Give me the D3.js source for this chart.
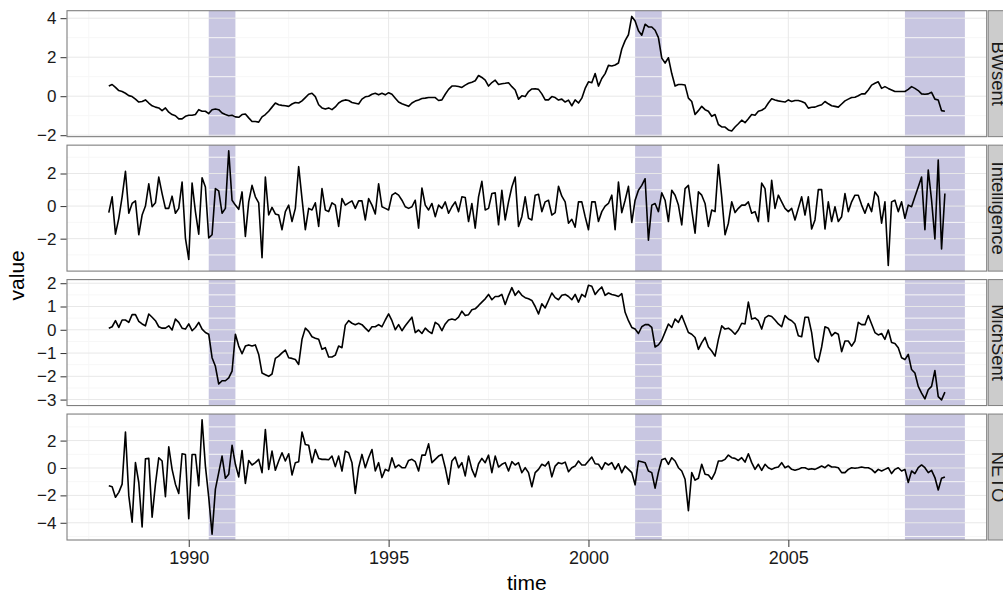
<!DOCTYPE html>
<html><head><meta charset="utf-8">
<script src="https://cdn.jsdelivr.net/npm/d3@7"></script>
<style>
body{margin:0;background:#fff}
svg{display:block}
text{font-family:"Liberation Sans",Arial,Helvetica,sans-serif}
</style>
</head><body>
<svg id="chart" width="1003" height="594"></svg>
<script>
// ---------------- data ----------------
const panelNames = ["BWsent", "Intelligence", "MichSent", "NETO"];
const startYear = 1988;          // monthly observations from Jan 1988
const xTickValues = [1990, 1995, 2000, 2005];
const xTickLabels = ["1990", "1995", "2000", "2005"];

const bwsent = [
  0.52, 0.6, 0.45, 0.29, 0.24, 0.15, 0.03, -0.02, -0.15, -0.3, -0.27, -0.19,
  -0.35, -0.49, -0.56, -0.6, -0.74, -0.6, -0.82, -0.94, -1.0, -1.16, -1.16, -1.03,
  -0.98, -0.98, -0.94, -0.69, -0.77, -0.77, -0.89, -0.69, -0.66, -0.69, -0.86, -0.94,
  -1.0, -0.98, -1.06, -1.08, -0.94, -0.91, -1.11, -1.3, -1.3, -1.33, -1.06, -0.94,
  -0.77, -0.56, -0.35, -0.44, -0.47, -0.49, -0.52, -0.4, -0.32, -0.35, -0.24, -0.07,
  0.1, 0.15, -0.02, -0.44, -0.6, -0.66, -0.6, -0.69, -0.55, -0.35, -0.24, -0.19,
  -0.22, -0.32, -0.36, -0.4, -0.15, -0.03, 0.0, 0.1, 0.15, 0.07, 0.15, 0.07,
  0.18, 0.1, -0.1, -0.3, -0.39, -0.45, -0.52, -0.35, -0.25, -0.19, -0.12, -0.1,
  -0.07, -0.07, -0.07, -0.22, -0.19, 0.1, 0.35, 0.52, 0.52, 0.5, 0.45, 0.57,
  0.66, 0.72, 0.79, 1.06, 0.96, 0.82, 0.52, 0.7, 0.82, 0.6, 0.64, 0.66,
  0.69, 0.49, 0.32, -0.15, 0.02, -0.02, 0.24, 0.37, 0.38, 0.35, 0.12, -0.19,
  -0.19, -0.02, -0.07, -0.2, -0.15, -0.3, -0.2, -0.49, -0.19, -0.35, -0.1, 0.4,
  0.74, 0.69, 1.16, 0.52, 0.91, 1.16, 1.58, 1.55, 1.6, 1.7, 2.42, 2.85,
  3.15, 4.09, 3.86, 3.35, 3.13, 3.69, 3.55, 3.55, 3.38, 3.0, 1.95, 1.7,
  1.97, 1.16, 0.52, 0.6, 0.6, 0.57, -0.1, -0.27, -0.94, -0.74, -0.52, -0.69,
  -0.77, -1.03, -0.94, -1.45, -1.57, -1.58, -1.73, -1.78, -1.58, -1.41, -1.23, -1.36,
  -1.16, -0.94, -0.98, -0.77, -0.72, -0.61, -0.35, -0.13, -0.19, -0.24, -0.27, -0.3,
  -0.19, -0.27, -0.22, -0.22, -0.27, -0.35, -0.61, -0.57, -0.56, -0.49, -0.44, -0.27,
  -0.39, -0.49, -0.52, -0.56, -0.4, -0.24, -0.15, -0.07, -0.05, 0.02, 0.12, 0.12,
  0.32, 0.57, 0.66, 0.74, 0.4, 0.49, 0.4, 0.32, 0.24, 0.24, 0.24, 0.24,
  0.35, 0.49, 0.4, 0.29, 0.12, 0.1, 0.12, 0.2, -0.15, -0.19, -0.74, -0.77
];

const intelligence = [
  -0.4, 0.57, -1.72, -0.75, 0.57, 2.14, -0.44, 0.16, 0.32, -1.76, -0.55, 0,
  1.37, -0.04, 0.2, 1.78, 0.77, -0.14, -0.14, 0.61, -0.44, -0.14, 1.47, -1.96,
  -3.27, 1.41, -0.34, -1.72, 1.74, 1.17, -1.96, -1.76, 1.07, 0.93, -0.44, -0.14,
  3.39, 0.36, 0.06, -0.2, 0.87, -1.86, 0.26, 1.27, 0.57, 0.2, -3.17, 1.78,
  -0.55, -0.08, -0.48, -0.55, -1.45, -0.34, 0.06, -0.95, -0.14, 2.42, 0.46, -1.45,
  -0.14, -0.24, 0.2, -1.25, 1.07, -0.24, -0.34, 0.2, 0.06, -1.25, 0.46, 0.06,
  0.2, 0.32, -0.14, 0.32, 0.32, -0.85, 0.46, 0.06, -0.48, 1.37, -0.04, -0.14,
  -0.24, 0.67, 0.81, 0.67, 0.36, -0.04, -0.14, -0.04, 0.36, -1.35, 1.11, 0.06,
  -0.24, 0.16, -0.65, 0.06, -0.14, 0.26, -0.44, -0.04, 0.26, -0.34, 0.57, 0.53,
  -0.95, 0.16, -1.35, 0.57, 1.52, -0.24, -0.14, 0.77, 0.81, -1.15, 0.97, -0.85,
  0.26, 1.17, 1.78, -1.25, -0.65, 0.57, -0.75, -0.85, 0.67, 0.73, -0.34, 0.26,
  0.36, -0.55, -0.4, 1.21, 0.61, 0.26, -1.05, -0.81, -1.29, 0.26, 0.26, -0.65,
  -1.45, 0.26, 0.26, -0.95, -0.34, 0, 0.16, 0.67, -1.45, 1.47, -0.4, 0.36,
  1.21, -1.01, 0.36, 0.97, 1.27, 1.68, -2.1, 0.06, 0.16, -0.34, 0.81, 0.36,
  -0.95, 0.97, 0.67, 0.06, -1.15, 1.07, 1.27, -0.24, -1.66, 0.87, 0.67, 0.16,
  -1.25, -0.24, -0.34, 2.55, 0.57, -1.76, -1.05, 0.26, -0.4, -0.14, 0.06, 0.06,
  0.26, -0.44, -0.34, -0.95, 1.41, 1.07, -0.95, 1.58, -0.14, 0.67, 0.26, -0.14,
  -0.34, -0.14, -0.85, -0.14, 0.57, -0.55, 0.57, -1.41, -0.85, 1.01, 1.01, -1.41,
  0.26, -0.95, -0.04, -0.95, -0.65, 0.77, -0.34, 0.26, 0.67, 0.67, 0.06, -0.44,
  0.16, -0.34, 0.87, 0.57, -1.05, 0.26, -3.64, 0.26, 0.36, -0.34, 0.26, -0.75,
  0.06, -0.04, 0.57, 1.17, 1.78, -1.45, 2.22, 0.36, -2.02, 2.83, -2.63, 0.77
];

const michsent = [
  0.07, 0.13, 0.39, 0.1, 0.42, 0.42, 0.32, 0.65, 0.65, 0.36, 0.25, 0.17,
  0.68, 0.54, 0.39, 0.13, 0.07, 0.07, 0.17, -0.01, 0.46, 0.32, 0.07, 0.03,
  0.25, -0.04, 0.1, 0.32, 0.03, -0.12, -0.19, -1.2, -1.57, -2.33, -2.19, -2.19,
  -2.07, -1.78, -0.19, -0.7, -1.03, -0.7, -0.65, -0.7, -0.65, -1.06, -1.86, -1.93,
  -2.0, -1.9, -1.23, -1.13, -0.99, -0.87, -1.2, -1.23, -1.28, -1.49, -0.41, 0.07,
  -0.07, -0.3, -0.36, -0.41, -0.84, -0.77, -1.17, -1.17, -1.09, -0.7, -0.77, 0.2,
  0.39, 0.28, 0.22, 0.28, 0.22, 0.07, -0.07, 0.13, 0.13, 0.22, 0.13, 0.42,
  0.68, 0.39, 0, 0.22, -0.04, 0.17, 0.36, 0.54, -0.12, -0.01, -0.16, 0.07,
  -0.07, -0.16, 0.32, 0.22, -0.04, 0.25, 0.42, 0.46, 0.42, 0.54, 0.8, 0.61,
  0.65, 0.86, 0.9, 1.04, 1.19, 1.33, 1.52, 1.29, 1.43, 1.43, 1.52, 1.09,
  1.48, 1.81, 1.48, 1.67, 1.48, 1.38, 1.33, 1.26, 1.0, 0.68, 1.12, 0.94,
  1.26, 1.58, 1.38, 1.29, 1.48, 1.52, 1.43, 1.29, 1.52, 1.19, 1.52, 1.41,
  1.91, 1.87, 1.52, 1.7, 1.84, 1.48, 1.58, 1.52, 1.48, 1.43, 1.55, 0.75,
  0.39, 0.1, 0.03, -0.16, 0.13, 0.22, 0.22, 0.1, -0.74, -0.65, -0.45, -0.1,
  0.25, 0.1, 0.46, 0.32, 0.61, 0.25, -0.12, -0.19, -0.33, -0.84, -0.55, -0.33,
  -0.74, -0.91, -1.13, -0.41, 0.17, 0.03, 0.07, -0.04, -0.19, -0.01, 0.28, 0.25,
  1.19, 0.46, 0.51, 0.39, 0.03, 0.51, 0.61, 0.57, 0.42, 0.25, 0.13, 0.61,
  0.46, 0.39, 0.25, -0.26, -0.3, 0.54, 0.54, -0.12, -1.2, -1.38, -0.74, 0.13,
  0.07, -0.26, -0.12, -0.19, -0.94, -0.48, -0.48, -0.7, -0.48, 0.32, 0.22, 0.22,
  0.61, 0.25, -0.12, -0.22, -0.16, -0.41, -0.01, -0.55, -0.59, -0.77, -1.2, -1.28,
  -1.06, -1.71, -1.86, -2.43, -2.72, -2.97, -2.58, -2.43, -1.75, -2.87, -3.01, -2.68
];

const neto = [
  -1.3, -1.37, -2.14, -1.78, -1.18, 2.63, -2.02, -3.95, 0.39, -1.06, -4.31, 0.67,
  0.7, -3.59, -1.18, 0.75, 0.51, -2.1, 1.54, -0.1, -1.18, -1.86, 1.04, 0.99,
  -3.71, 0.99, 0.99, -1.3, 3.52, 0.14, -2.14, -4.84, -1.54, -0.34, 0.87, -0.75,
  -0.46, 1.66, 0.27, -0.65, 1.28, -1.13, 0.55, 0.22, 0.39, 0.63, -0.34, 2.8,
  -0.1, 1.23, -0.17, 0.51, 1.11, 0.51, 1.04, -0.51, 0.39, 0.46, 2.63, 1.71,
  1.66, 0.39, 1.35, 0.7, 0.63, 0.63, 0.6, 0.87, 0.1, 0.87, -0.22, 1.23,
  1.11, 0.39, -1.86, 0.02, 0.99, 0.02, 0.75, 1.35, -0.22, 0.39, -0.7, -0.1,
  -0.22, 0.75, 0.02, 0.22, 0.02, 0.02, 0.55, 0.63, 0.46, -0.22, 0.94, 0.94,
  1.76, 0.39, 0.63, 0.87, 0.99, 0.02, -1.18, 0.51, 0.8, 0.02, 0.39, -0.58,
  0.87, -0.1, -0.65, 0.31, 0.7, 0.39, 0.94, -0.34, 0.87, 0.07, 0.27, 0.39,
  -0.22, 0.46, 0.22, 0.39, -0.34, 0.02, -0.34, -1.37, -0.34, -0.1, 0.27, 0.14,
  0.46, -0.65, 0.14, 0.39, 0.31, 0.43, -0.27, 0.02, 0.14, 0.51, 0.22, 0.22,
  0.51, 0.8, 0.31, 0.27, -0.1, 0.39, 0.22, 0.39, -0.1, 0.31, -0.34, 0.14,
  -0.1, -0.34, -1.23, 0.51, 0.46, 0.39, -0.22, -0.34, -1.47, -0.3, 0.6, 0.7,
  0.27, 0.75, 0.51, 0.02, -0.22, -0.82, -3.11, -0.34, -0.89, -0.75, 0.27, -0.46,
  -0.51, -0.82, -0.34, 0.51, 0.51, 0.63, 0.94, 0.75, 0.7, 0.55, 0.75, 0.43,
  1.04, 0.39, -0.1, 0.27, -0.17, 0.27, 0.02, -0.1, 0.02, 0.07, 0.39, 0.02,
  0.14, -0.1, -0.17, -0.1, 0.02, 0.02, -0.1, -0.05, -0.1, 0.02, 0.14, 0.02,
  0.22, 0.07, 0.07, 0.02, -0.34, -0.34, -0.1, 0.02, -0.02, 0.02, 0.07, 0.02,
  0.02, -0.1, -0.34, -0.1, -0.22, -0.1, 0.02, -0.41, -0.1, 0.02, -0.22, -0.1,
  -1.06, -0.22, -0.41, 0.02, 0.22, 0.02, -0.34, -0.17, -0.7, -1.61, -0.75, -0.65
];

const ticksBWsent = [-2, 0, 2, 4];
const ticksIntelligence = [-2, 0, 2];
const ticksMichSent = [-3, -2, -1, 0, 1, 2];
const ticksNETO = [-4, -2, 0, 2];

// recession periods (decimal years): start, end
const recessionStart = [1990.5, 2001.167, 2007.917];
const recessionEnd   = [1991.167, 2001.833, 2009.417];

// ---------------- layout ----------------
const W = 1003, H = 594;
const padL = 67, padR = 986.7, padT = 10.7, padB = 540;
const gap = 8.5;
const ph = (padB - padT - 3 * gap) / 4;

const series = [bwsent, intelligence, michsent, neto];
const yTicks = [ticksBWsent, ticksIntelligence, ticksMichSent, ticksNETO];

const times = bwsent.map((_, i) => startYear + i / 12);

function expand(ext, f = 0.05) {
  const d = ext[1] - ext[0];
  return [ext[0] - d * f, ext[1] + d * f];
}

const x = d3.scaleLinear().domain(expand(d3.extent(times))).range([padL, padR]);
const xStep = xTickValues[1] - xTickValues[0];
const xMinor = [xTickValues[0] - xStep].concat(xTickValues)
  .map(v => v + xStep / 2)
  .filter(m => m > x.domain()[0] && m < x.domain()[1]);

const svg = d3.select("#chart");
svg.append("rect").attr("width", W).attr("height", H).attr("fill", "#fff");

const FONT = '"Liberation Sans",Arial,Helvetica,sans-serif';

panelNames.forEach((name, p) => {
  const vals = series[p];
  const y0 = padT + p * (ph + gap);
  const y = d3.scaleLinear().domain(expand(d3.extent(vals))).range([y0 + ph, y0]);
  const g = svg.append("g");
  const data = vals.map((v, i) => ({ t: times[i], v }));

  g.append("rect").attr("x", padL).attr("y", y0).attr("width", padR - padL).attr("height", ph).attr("fill", "#fff");

  // recession shading
  g.selectAll("rect.rec").data(recessionStart.map((s, i) => [s, recessionEnd[i]]))
    .join("rect").attr("class", "rec")
    .attr("x", d => x(d[0])).attr("width", d => x(d[1]) - x(d[0]))
    .attr("y", y0).attr("height", ph)
    .attr("fill", "#7570b3").attr("fill-opacity", 0.4);

  // minor grid
  const t = yTicks[p];
  const st = t[1] - t[0];
  const yMinor = [t[0] - st].concat(t).map(v => v + st / 2)
    .filter(m => m > y.domain()[0] && m < y.domain()[1]);
  g.selectAll("line.ymin").data(yMinor).join("line").attr("class", "ymin")
    .attr("x1", padL).attr("x2", padR).attr("y1", d => y(d)).attr("y2", d => y(d))
    .attr("stroke", "#f7f7f7").attr("stroke-width", 1);
  g.selectAll("line.xmin").data(xMinor).join("line").attr("class", "xmin")
    .attr("x1", d => x(d)).attr("x2", d => x(d)).attr("y1", y0).attr("y2", y0 + ph)
    .attr("stroke", "#f7f7f7").attr("stroke-width", 1);
  // major grid
  g.selectAll("line.ymaj").data(t).join("line").attr("class", "ymaj")
    .attr("x1", padL).attr("x2", padR).attr("y1", d => y(d)).attr("y2", d => y(d))
    .attr("stroke", "#e8e8e8").attr("stroke-width", 1);
  g.selectAll("line.xmaj").data(xTickValues).join("line").attr("class", "xmaj")
    .attr("x1", d => x(d)).attr("x2", d => x(d)).attr("y1", y0).attr("y2", y0 + ph)
    .attr("stroke", "#e8e8e8").attr("stroke-width", 1);

  // series line
  g.append("path").datum(data)
    .attr("fill", "none").attr("stroke", "#000").attr("stroke-width", 1.6)
    .attr("stroke-linejoin", "round")
    .attr("d", d3.line().x(d => x(d.t)).y(d => y(d.v)));

  // border
  g.append("rect").attr("x", padL).attr("y", y0).attr("width", padR - padL).attr("height", ph)
    .attr("fill", "none").attr("stroke", "#7f7f7f").attr("stroke-width", 1.1);

  // y axis
  const ay = d3.axisLeft(y).tickValues(t).tickSize(6).tickPadding(4)
    .tickFormat(d => String(d).replace("-", "\u2212"));
  const ga = svg.append("g").attr("transform", `translate(${padL - 0.5},0)`).call(ay);
  ga.select(".domain").remove();
  ga.selectAll(".tick line").attr("stroke", "#333").attr("stroke-width", 1);
  ga.selectAll(".tick text").attr("fill", "#1a1a1a").style("font-size", "17px").style("font-family", FONT);

  // strip
  const sx = padR + 1.5;
  svg.append("rect").attr("x", sx).attr("y", y0).attr("width", 24).attr("height", ph)
    .attr("fill", "#cccccc").attr("stroke", "#7f7f7f").attr("stroke-width", 1);
  svg.append("text")
    .attr("transform", `translate(${sx + 4},${y0 + ph / 2}) rotate(90)`)
    .attr("text-anchor", "middle")
    .style("font-size", "18.4px").style("font-family", FONT).attr("fill", "#1a1a1a")
    .text(name);
});

// x axis
const ax = d3.axisBottom(x).tickValues(xTickValues).tickSize(7).tickPadding(4)
  .tickFormat((d, i) => xTickLabels[i]);
const gx = svg.append("g").attr("transform", `translate(0,${padB})`).call(ax);
gx.select(".domain").remove();
gx.selectAll(".tick line").attr("stroke", "#333");
gx.selectAll(".tick text").attr("fill", "#1a1a1a").style("font-size", "18px").style("font-family", FONT);

// axis titles
svg.append("text").attr("x", (padL + padR) / 2).attr("y", 590)
  .attr("text-anchor", "middle").style("font-size", "21px").style("font-family", FONT)
  .attr("fill", "#000").text("time");
svg.append("text").attr("transform", `translate(24,${(padT + padB) / 2}) rotate(-90)`)
  .attr("text-anchor", "middle").style("font-size", "21px").style("font-family", FONT)
  .attr("fill", "#000").text("value");
</script>
</body></html>
